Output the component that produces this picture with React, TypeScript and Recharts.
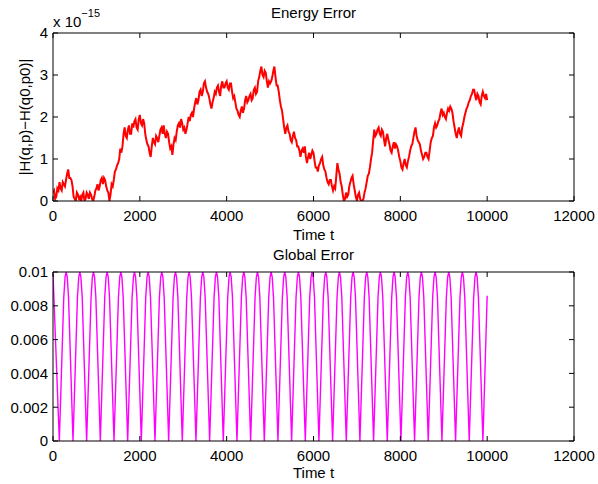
import { LineChart, Line, XAxis, YAxis } from 'recharts'

// energy error |H(q,p)-H(q0,p0)|, in units of 1e-15
const energyTime = [
  0, 25, 50, 75, 100, 125, 150, 175, 200, 225, 250, 275, 300, 325, 350, 375, 400, 425, 450, 475,
  500, 525, 550, 575, 600, 625, 650, 675, 700, 725, 750, 775, 800, 825, 850, 875, 900, 925, 950, 975,
  1000, 1025, 1050, 1075, 1100, 1125, 1150, 1175, 1200, 1225, 1250, 1275, 1300, 1325, 1350, 1375, 1400, 1425, 1450, 1475,
  1500, 1525, 1550, 1575, 1600, 1625, 1650, 1675, 1700, 1725, 1750, 1775, 1800, 1825, 1850, 1875, 1900, 1925, 1950, 1975,
  2000, 2025, 2050, 2075, 2100, 2125, 2150, 2175, 2200, 2225, 2250, 2275, 2300, 2325, 2350, 2375, 2400, 2425, 2450, 2475,
  2500, 2525, 2550, 2575, 2600, 2625, 2650, 2675, 2700, 2725, 2750, 2775, 2800, 2825, 2850, 2875, 2900, 2925, 2950, 2975,
  3000, 3025, 3050, 3075, 3100, 3125, 3150, 3175, 3200, 3225, 3250, 3275, 3300, 3325, 3350, 3375, 3400, 3425, 3450, 3475,
  3500, 3525, 3550, 3575, 3600, 3625, 3650, 3675, 3700, 3725, 3750, 3775, 3800, 3825, 3850, 3875, 3900, 3925, 3950, 3975,
  4000, 4025, 4050, 4075, 4100, 4125, 4150, 4175, 4200, 4225, 4250, 4275, 4300, 4325, 4350, 4375, 4400, 4425, 4450, 4475,
  4500, 4525, 4550, 4575, 4600, 4625, 4650, 4675, 4700, 4725, 4750, 4775, 4800, 4825, 4850, 4875, 4900, 4925, 4950, 4975,
  5000, 5025, 5050, 5075, 5100, 5125, 5150, 5175, 5200, 5225, 5250, 5275, 5300, 5325, 5350, 5375, 5400, 5425, 5450, 5475,
  5500, 5525, 5550, 5575, 5600, 5625, 5650, 5675, 5700, 5725, 5750, 5775, 5800, 5825, 5850, 5875, 5900, 5925, 5950, 5975,
  6000, 6025, 6050, 6075, 6100, 6125, 6150, 6175, 6200, 6225, 6250, 6275, 6300, 6325, 6350, 6375, 6400, 6425, 6450, 6475,
  6500, 6525, 6550, 6575, 6600, 6625, 6650, 6675, 6700, 6725, 6750, 6775, 6800, 6825, 6850, 6875, 6900, 6925, 6950, 6975,
  7000, 7025, 7050, 7075, 7100, 7125, 7150, 7175, 7200, 7225, 7250, 7275, 7300, 7325, 7350, 7375, 7400, 7425, 7450, 7475,
  7500, 7525, 7550, 7575, 7600, 7625, 7650, 7675, 7700, 7725, 7750, 7775, 7800, 7825, 7850, 7875, 7900, 7925, 7950, 7975,
  8000, 8025, 8050, 8075, 8100, 8125, 8150, 8175, 8200, 8225, 8250, 8275, 8300, 8325, 8350, 8375, 8400, 8425, 8450, 8475,
  8500, 8525, 8550, 8575, 8600, 8625, 8650, 8675, 8700, 8725, 8750, 8775, 8800, 8825, 8850, 8875, 8900, 8925, 8950, 8975,
  9000, 9025, 9050, 9075, 9100, 9125, 9150, 9175, 9200, 9225, 9250, 9275, 9300, 9325, 9350, 9375, 9400, 9425, 9450, 9475,
  9500, 9525, 9550, 9575, 9600, 9625, 9650, 9675, 9700, 9725, 9750, 9775, 9800, 9825, 9850, 9875, 9900, 9925, 9950, 9975,
  10000,
]
const energyError = [
  0.2, 0.25, 0.05, 0.1, 0.3, 0.25, 0.45, 0.3, 0.25, 0.45, 0.4, 0.35, 0.5, 0.65, 0.75, 0.55, 0.55, 0.5, 0.35, 0.1,
  0.05, 0.0, 0.2, 0.15, 0.05, 0.1, 0.0, 0.15, 0.2, 0.0, 0.05, 0.2, 0.15, 0.05, 0.2, 0.15, 0.05, 0.0, 0.1, 0.25,
  0.3, 0.4, 0.25, 0.35, 0.5, 0.55, 0.4, 0.55, 0.5, 0.35, 0.25, 0.2, 0.0, 0.15, 0.4, 0.35, 0.5, 0.7, 0.75, 0.85,
  0.9, 1.0, 1.25, 1.15, 1.3, 1.6, 1.75, 1.55, 1.5, 1.7, 1.8, 1.6, 1.6, 1.85, 1.75, 1.9, 1.95, 1.75, 1.7, 1.95,
  2.05, 1.85, 1.8, 1.95, 1.85, 1.6, 1.45, 1.35, 1.3, 1.15, 1.05, 1.3, 1.5, 1.4, 1.35, 1.55, 1.5, 1.4, 1.55, 1.7,
  1.75, 1.6, 1.8, 1.6, 1.5, 1.65, 1.6, 1.4, 1.25, 1.3, 1.1, 1.35, 1.5, 1.45, 1.65, 1.8, 1.85, 1.75, 1.95, 1.85,
  1.7, 1.75, 1.6, 1.7, 1.85, 2.0, 1.9, 2.05, 2.1, 2.0, 2.2, 2.35, 2.45, 2.3, 2.4, 2.6, 2.65, 2.5, 2.6, 2.8,
  2.85, 2.7, 2.6, 2.55, 2.45, 2.3, 2.2, 2.35, 2.45, 2.6, 2.55, 2.7, 2.75, 2.6, 2.5, 2.75, 2.85, 2.7, 2.7, 2.8,
  2.85, 2.7, 2.65, 2.8, 2.8, 2.6, 2.45, 2.5, 2.35, 2.2, 2.15, 2.05, 2.0, 2.15, 2.25, 2.1, 2.2, 2.4, 2.5, 2.35,
  2.4, 2.5, 2.55, 2.4, 2.45, 2.65, 2.7, 2.55, 2.6, 2.85, 2.95, 3.1, 3.2, 3.0, 2.95, 3.1, 3.05, 2.85, 2.7, 2.85,
  2.8, 2.85, 2.95, 3.1, 3.2, 2.95, 2.75, 2.75, 2.6, 2.4, 2.25, 2.15, 1.95, 1.75, 1.6, 1.75, 1.8, 1.65, 1.6, 1.45,
  1.4, 1.55, 1.65, 1.5, 1.45, 1.3, 1.3, 1.2, 1.05, 1.2, 1.25, 1.15, 1.3, 1.05, 0.9, 1.05, 1.15, 1.0, 1.1, 1.2,
  1.15, 0.95, 0.8, 0.8, 0.7, 0.85, 0.9, 1.0, 1.05, 0.85, 0.75, 0.7, 0.55, 0.45, 0.4, 0.5, 0.5, 0.35, 0.25, 0.35,
  0.3, 0.6, 0.9, 0.75, 0.65, 0.45, 0.35, 0.15, 0.0, 0.05, 0.2, 0.1, 0.15, 0.35, 0.45, 0.55, 0.6, 0.4, 0.25, 0.1,
  0.0, 0.15, 0.2, 0.05, 0.0, 0.0, 0.05, 0.2, 0.3, 0.45, 0.6, 0.65, 0.8, 1.0, 1.15, 1.45, 1.7, 1.55, 1.6, 1.7,
  1.75, 1.6, 1.55, 1.7, 1.65, 1.45, 1.3, 1.5, 1.6, 1.45, 1.35, 1.2, 1.15, 1.3, 1.4, 1.25, 1.35, 1.3, 1.2, 1.05,
  0.95, 0.8, 0.75, 0.9, 1.0, 0.85, 0.8, 0.95, 1.05, 1.2, 1.3, 1.35, 1.5, 1.65, 1.75, 1.55, 1.45, 1.4, 1.35, 1.2,
  1.1, 1.0, 1.05, 1.15, 1.15, 1.05, 1.0, 1.2, 1.4, 1.5, 1.55, 1.75, 1.85, 1.75, 1.8, 1.9, 1.95, 2.1, 2.2, 2.05,
  2.1, 2.0, 1.95, 2.1, 2.2, 2.15, 2.25, 2.2, 2.1, 1.9, 1.75, 1.6, 1.5, 1.65, 1.75, 1.6, 1.55, 1.75, 1.85, 2.0,
  2.1, 2.2, 2.25, 2.35, 2.4, 2.5, 2.55, 2.65, 2.65, 2.5, 2.4, 2.55, 2.5, 2.35, 2.3, 2.5, 2.6, 2.5, 2.45, 2.55,
  2.4,
]

// global error: each swing as trough, shoulder, near-crest, crest, near-crest, shoulder
const globalTime = [
  0,
  146, 248, 278, 303, 328, 358,
  461, 563, 593, 618, 643, 673,
  775, 877, 907, 932, 957, 987,
  1090, 1192, 1222, 1247, 1272, 1302,
  1405, 1507, 1537, 1562, 1587, 1617,
  1720, 1822, 1852, 1877, 1902, 1932,
  2034, 2136, 2166, 2191, 2216, 2246,
  2349, 2451, 2481, 2506, 2531, 2561,
  2664, 2766, 2796, 2821, 2846, 2876,
  2978, 3080, 3110, 3135, 3160, 3190,
  3293, 3395, 3425, 3450, 3475, 3505,
  3608, 3710, 3740, 3765, 3790, 3820,
  3922, 4024, 4054, 4079, 4104, 4134,
  4237, 4339, 4369, 4394, 4419, 4449,
  4552, 4654, 4684, 4709, 4734, 4764,
  4867, 4969, 4999, 5024, 5049, 5079,
  5181, 5283, 5313, 5338, 5363, 5393,
  5496, 5598, 5628, 5653, 5678, 5708,
  5811, 5913, 5943, 5968, 5993, 6023,
  6125, 6227, 6257, 6282, 6307, 6337,
  6440, 6542, 6572, 6597, 6622, 6652,
  6755, 6857, 6887, 6912, 6937, 6967,
  7069, 7171, 7201, 7226, 7251, 7281,
  7384, 7486, 7516, 7541, 7566, 7596,
  7699, 7801, 7831, 7856, 7881, 7911,
  8014, 8116, 8146, 8171, 8196, 8226,
  8328, 8430, 8460, 8485, 8510, 8540,
  8643, 8745, 8775, 8800, 8825, 8855,
  8958, 9060, 9090, 9115, 9140, 9170,
  9272, 9374, 9404, 9429, 9454, 9484,
  9587, 9689, 9719, 9744, 9769, 9799,
  9902, 10000,
]
const globalError = [
  0.0099,
  0, 0.0085, 0.0097, 0.01, 0.0097, 0.0085,
  0, 0.0085, 0.0097, 0.01, 0.0097, 0.0085,
  0, 0.0085, 0.0097, 0.01, 0.0097, 0.0085,
  0, 0.0085, 0.0097, 0.01, 0.0097, 0.0085,
  0, 0.0085, 0.0097, 0.01, 0.0097, 0.0085,
  0, 0.0085, 0.0097, 0.01, 0.0097, 0.0085,
  0, 0.0085, 0.0097, 0.01, 0.0097, 0.0085,
  0, 0.0085, 0.0097, 0.01, 0.0097, 0.0085,
  0, 0.0085, 0.0097, 0.01, 0.0097, 0.0085,
  0, 0.0085, 0.0097, 0.01, 0.0097, 0.0085,
  0, 0.0085, 0.0097, 0.01, 0.0097, 0.0085,
  0, 0.0085, 0.0097, 0.01, 0.0097, 0.0085,
  0, 0.0085, 0.0097, 0.01, 0.0097, 0.0085,
  0, 0.0085, 0.0097, 0.01, 0.0097, 0.0085,
  0, 0.0085, 0.0097, 0.01, 0.0097, 0.0085,
  0, 0.0085, 0.0097, 0.01, 0.0097, 0.0085,
  0, 0.0085, 0.0097, 0.01, 0.0097, 0.0085,
  0, 0.0085, 0.0097, 0.01, 0.0097, 0.0085,
  0, 0.0085, 0.0097, 0.01, 0.0097, 0.0085,
  0, 0.0085, 0.0097, 0.01, 0.0097, 0.0085,
  0, 0.0085, 0.0097, 0.01, 0.0097, 0.0085,
  0, 0.0085, 0.0097, 0.01, 0.0097, 0.0085,
  0, 0.0085, 0.0097, 0.01, 0.0097, 0.0085,
  0, 0.0085, 0.0097, 0.01, 0.0097, 0.0085,
  0, 0.0085, 0.0097, 0.01, 0.0097, 0.0085,
  0, 0.0085, 0.0097, 0.01, 0.0097, 0.0085,
  0, 0.0085, 0.0097, 0.01, 0.0097, 0.0085,
  0, 0.0085, 0.0097, 0.01, 0.0097, 0.0085,
  0, 0.0085, 0.0097, 0.01, 0.0097, 0.0085,
  0, 0.0085, 0.0097, 0.01, 0.0097, 0.0085,
  0, 0.0085, 0.0097, 0.01, 0.0097, 0.0085,
  0, 0.0086,
]

const timeTicks = [0, 2000, 4000, 6000, 8000, 10000, 12000]
const energyTicks = [0, 1, 2, 3, 4]
const globalTicks = [0, 0.002, 0.004, 0.006, 0.008, 0.01]

const energyData = energyTime.map((t, i) => ({ t, v: energyError[i] }))
const globalData = globalTime.map((t, i) => ({ t, v: globalError[i] }))

const font = '"Liberation Sans", Arial, Helvetica, sans-serif'
const tickFont = { fill: '#000', fontSize: 15, fontFamily: font }
const black = { stroke: '#000', strokeWidth: 1 }
const blank = () => ''

// matlab style box: labelled axes outside, mirrored axes carry the inward ticks
function Panel({ data, yTicks, yMax, color, width, top, height, marginTop, xHeight }: any) {
  const xProps = { dataKey: 't', type: 'number' as const, domain: [0, 12000], ticks: timeTicks, allowDataOverflow: true }
  const yProps = { type: 'number' as const, domain: [0, yMax], ticks: yTicks, allowDataOverflow: true }
  return (
    <div style={{ position: 'absolute', left: 0, top }}>
      <LineChart width={598} height={height} data={data} margin={{ top: marginTop, right: 24, bottom: 0, left: 0 }}>
        <XAxis xAxisId="b" {...xProps} height={xHeight} tickSize={0} tickMargin={9} tick={tickFont}
          axisLine={black} tickLine={false} />
        <XAxis xAxisId="bm" {...xProps} mirror height={1} tickSize={5} tickFormatter={blank}
          axisLine={false} tickLine={black} />
        <XAxis xAxisId="t" {...xProps} orientation="top" mirror height={1} tickSize={5} tickFormatter={blank}
          axisLine={black} tickLine={black} />
        <YAxis yAxisId="l" {...yProps} width={53} tickSize={0} tickMargin={5} tick={tickFont}
          axisLine={black} tickLine={false} />
        <YAxis yAxisId="lm" {...yProps} mirror width={1} tickSize={5} tickFormatter={blank}
          axisLine={false} tickLine={black} />
        <YAxis yAxisId="r" {...yProps} orientation="right" mirror width={1} tickSize={5} tickFormatter={blank}
          axisLine={black} tickLine={black} />
        <Line xAxisId="b" yAxisId="l" type="linear" dataKey="v" stroke={color} strokeWidth={width}
          strokeLinejoin="miter" dot={false} isAnimationActive={false} />
      </LineChart>
    </div>
  )
}

export default function App() {
  return (
    <div style={{ position: 'absolute', left: 0, top: 0, width: 598, height: 484, background: '#fff', fontFamily: font }}>
      <Panel data={energyData} yTicks={energyTicks} yMax={4} color="#ff0000" width={2}
        top={0} height={232} marginTop={33} xHeight={31} />
      <Panel data={globalData} yTicks={globalTicks} yMax={0.01} color="#ff00ff" width={1.4}
        top={240} height={231} marginTop={32} xHeight={30} />
      <svg width={598} height={484} style={{ position: 'absolute', left: 0, top: 0, pointerEvents: 'none' }}
        fontFamily={font} fill="#000">
        <text x={313.5} y={18} fontSize={15} textAnchor="middle">Energy Error</text>
        <text x={53} y={27} fontSize={15}>
          x 10<tspan fontSize={11} dy={-10}>−15</tspan>
        </text>
        <text transform="translate(30,117) rotate(-90)" fontSize={15} textAnchor="middle">|H(q,p)−H(q0,p0)|</text>
        <text x={313.5} y={240} fontSize={15} textAnchor="middle">Time t</text>
        <text x={313.5} y={260} fontSize={15} textAnchor="middle">Global Error</text>
        <text x={313.5} y={478} fontSize={15} textAnchor="middle">Time t</text>
      </svg>
    </div>
  )
}
